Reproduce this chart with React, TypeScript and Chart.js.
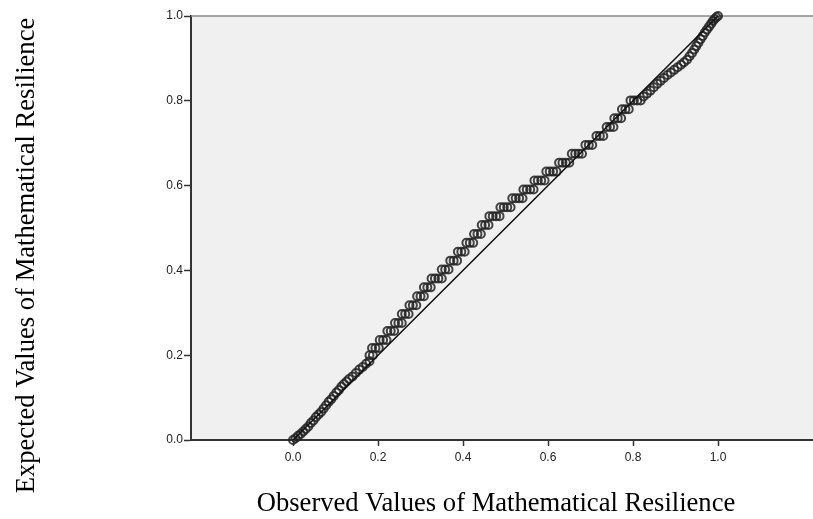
import React, { useEffect, useRef } from "react";
import { Chart, registerables } from "chart.js";

Chart.register(...registerables);

// Observed (x) and expected (y) cumulative probabilities
const observed: number[] = [
  0.000, 0.006, 0.012, 0.018, 0.024, 0.030, 0.036, 0.042, 0.048, 0.054,
  0.060, 0.066, 0.072, 0.078, 0.084, 0.090, 0.096, 0.102, 0.108, 0.114,
  0.120, 0.126, 0.132, 0.140, 0.148, 0.156, 0.164, 0.172, 0.180,
  0.180, 0.188,
  0.186, 0.194, 0.202,
  0.204, 0.212, 0.220,
  0.222, 0.230, 0.238,
  0.240, 0.248, 0.256,
  0.256, 0.264, 0.272,
  0.274, 0.282, 0.290,
  0.292, 0.300, 0.308,
  0.308, 0.316, 0.324,
  0.326, 0.334, 0.342, 0.350,
  0.350, 0.358, 0.366,
  0.370, 0.378, 0.386,
  0.388, 0.396, 0.404,
  0.408, 0.416, 0.424,
  0.426, 0.434, 0.442,
  0.444, 0.452, 0.460,
  0.462, 0.470, 0.478, 0.486,
  0.488, 0.496, 0.504, 0.512,
  0.516, 0.524, 0.532, 0.540,
  0.542, 0.550, 0.558, 0.566,
  0.568, 0.576, 0.584, 0.592,
  0.596, 0.604, 0.612, 0.620,
  0.626, 0.634, 0.642, 0.650,
  0.656, 0.664, 0.672, 0.680,
  0.688, 0.696, 0.704,
  0.714, 0.722, 0.730,
  0.738, 0.746, 0.754,
  0.756, 0.764, 0.772,
  0.774, 0.782, 0.790,
  0.794, 0.802, 0.810, 0.818,
  0.825, 0.833, 0.841, 0.849, 0.857, 0.865, 0.873, 0.881, 0.889, 0.897,
  0.905, 0.913, 0.920, 0.927, 0.933, 0.939, 0.944, 0.949, 0.954, 0.959,
  0.964, 0.969, 0.974, 0.979, 0.984, 0.988, 0.992, 0.996, 1.000,
];

const expected: number[] = [
  0.000, 0.004, 0.010, 0.014, 0.020, 0.026, 0.032, 0.040, 0.046, 0.054,
  0.060, 0.066, 0.074, 0.082, 0.090, 0.096, 0.104, 0.112, 0.118, 0.126,
  0.132, 0.138, 0.144, 0.150, 0.158, 0.166, 0.172, 0.180, 0.186,
  0.200, 0.200,
  0.217, 0.217, 0.217,
  0.236, 0.236, 0.236,
  0.257, 0.257, 0.257,
  0.276, 0.276, 0.276,
  0.297, 0.297, 0.297,
  0.318, 0.318, 0.318,
  0.339, 0.339, 0.339,
  0.360, 0.360, 0.360,
  0.381, 0.381, 0.381, 0.381,
  0.402, 0.402, 0.402,
  0.423, 0.423, 0.423,
  0.444, 0.444, 0.444,
  0.465, 0.465, 0.465,
  0.486, 0.486, 0.486,
  0.507, 0.507, 0.507,
  0.528, 0.528, 0.528, 0.528,
  0.549, 0.549, 0.549, 0.549,
  0.570, 0.570, 0.570, 0.570,
  0.591, 0.591, 0.591, 0.591,
  0.612, 0.612, 0.612, 0.612,
  0.633, 0.633, 0.633, 0.633,
  0.654, 0.654, 0.654, 0.654,
  0.675, 0.675, 0.675, 0.675,
  0.696, 0.696, 0.696,
  0.717, 0.717, 0.717,
  0.738, 0.738, 0.738,
  0.759, 0.759, 0.759,
  0.780, 0.780, 0.780,
  0.801, 0.801, 0.801, 0.801,
  0.810, 0.817, 0.824, 0.832, 0.840, 0.847, 0.854, 0.861, 0.867, 0.873,
  0.879, 0.885, 0.891, 0.897, 0.905, 0.913, 0.921, 0.929, 0.937, 0.945,
  0.953, 0.961, 0.968, 0.975, 0.982, 0.988, 0.993, 0.997, 1.000,
];

// Reference diagonal
const diagonalX: number[] = [0, 1];
const diagonalY: number[] = [0, 1];

const xTickValues: number[] = [0, 0.2, 0.4, 0.6, 0.8, 1.0];
const yTickValues: number[] = [0, 0.2, 0.4, 0.6, 0.8, 1.0];

const xTitle = "Observed Values of Mathematical Resilience";
const yTitle = "Expected Values of Mathematical Resilience";

const X_MIN = -0.24;
const X_MAX = 1.2235;

const decorPlugin = {
  id: "decor",
  beforeDraw(chart: any) {
    const { ctx, chartArea: a } = chart;
    ctx.save();
    ctx.fillStyle = "#f0f0f0";
    ctx.fillRect(a.left, a.top, a.right - a.left, a.bottom - a.top);
    ctx.restore();
  },
  beforeDatasetsDraw(chart: any) {
    const { ctx, chartArea: a } = chart;
    ctx.save();
    ctx.strokeStyle = "#8a8a8a";
    ctx.lineWidth = 1.5;
    ctx.beginPath();
    ctx.moveTo(a.left, a.top);
    ctx.lineTo(a.right, a.top);
    ctx.stroke();
    ctx.restore();
  },
  afterDraw(chart: any) {
    const { ctx } = chart;
    ctx.save();
    ctx.fillStyle = "#000";
    ctx.font = '26.6px "Liberation Serif", "Times New Roman", serif';
    ctx.textAlign = "center";
    ctx.textBaseline = "alphabetic";
    ctx.fillText(xTitle, 496, 511);
    ctx.translate(34, 255.5);
    ctx.rotate(-Math.PI / 2);
    ctx.fillText(yTitle, 0, 0);
    ctx.restore();
  },
};

export default function App() {
  const canvasRef = useRef<HTMLCanvasElement | null>(null);

  useEffect(() => {
    const canvas = canvasRef.current;
    if (!canvas) return;
    const points = observed.map((x, i) => ({ x, y: expected[i] }));
    const diag = diagonalX.map((x, i) => ({ x, y: diagonalY[i] }));
    const tickFont = { family: '"Liberation Sans", Arial, sans-serif', size: 12 };

    const chart = new Chart(canvas, {
      type: "scatter",
      data: {
        datasets: [
          {
            type: "line",
            data: diag,
            borderColor: "#111",
            borderWidth: 1.5,
            pointRadius: 0,
            fill: false,
          } as any,
          {
            type: "scatter",
            data: points,
            pointRadius: 4,
            pointBorderWidth: 2,
            borderColor: "rgba(35,35,35,0.85)",
            backgroundColor: "rgba(0,0,0,0)",
            clip: false,
          } as any,
        ],
      },
      options: {
        responsive: false,
        animation: false,
        devicePixelRatio: 1,
        layout: { autoPadding: false, padding: { top: 16, left: 0, right: 0, bottom: 0 } },
        plugins: {
          legend: { display: false },
          tooltip: { enabled: false },
        },
        scales: {
          x: {
            type: "linear",
            min: X_MIN,
            max: X_MAX,
            afterBuildTicks: (scale: any) => {
              scale.ticks = xTickValues.map((v) => ({ value: v }));
            },
            afterFit: (scale: any) => {
              scale.height = 79;
            },
            ticks: {
              callback: (v: any) => Number(v).toFixed(1),
              color: "#222",
              font: tickFont,
              padding: 4,
              maxRotation: 0,
              autoSkip: false,
            },
            grid: {
              drawOnChartArea: false,
              drawTicks: true,
              tickLength: 6,
              tickWidth: 1.5,
              tickColor: "#333",
            },
            border: { display: true, color: "#333", width: 2 },
          },
          y: {
            type: "linear",
            min: 0,
            max: 1,
            afterBuildTicks: (scale: any) => {
              scale.ticks = yTickValues.map((v) => ({ value: v }));
            },
            afterFit: (scale: any) => {
              scale.width = 191;
            },
            ticks: {
              callback: (v: any) => Number(v).toFixed(1),
              color: "#222",
              font: tickFont,
              padding: 1,
              autoSkip: false,
            },
            grid: {
              drawOnChartArea: false,
              drawTicks: true,
              tickLength: 7,
              tickWidth: 1.5,
              tickColor: "#333",
            },
            border: { display: true, color: "#333", width: 2 },
          },
        },
      } as any,
      plugins: [decorPlugin],
    });

    return () => chart.destroy();
  }, []);

  return (
    <div style={{ position: "fixed", left: 0, top: 0, width: 813, height: 519, background: "#fff", overflow: "hidden" }}>
      <canvas ref={canvasRef} width={813} height={519} style={{ display: "block" }} />
    </div>
  );
}
